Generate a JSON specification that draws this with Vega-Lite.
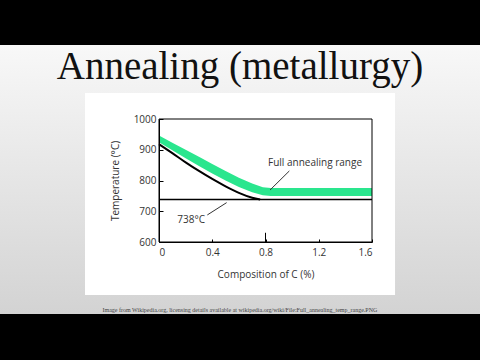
{
  "$schema": "https://vega.github.io/schema/vega-lite/v6.json",
  "autosize": {"type": "none"},
  "width": 213,
  "height": 123,
  "padding": {"left": 159, "top": 119, "right": 108, "bottom": 118},
  "background": "#000000",
  "config": {
    "view": {"stroke": null},
    "axis": {"labelFont": "Open Sans", "titleFont": "Open Sans", "labelColor": "#333333", "titleColor": "#333333", "labelFontSize": 10, "titleFontSize": 10, "titleFontWeight": "normal", "grid": false, "domainColor": "#000000", "tickColor": "#000000", "labelOverlap": false},
    "axisY": {"tickCount": 5}
  },
  "datasets": {
    "slide": [
      {"c1": -1.3, "c2": 2.5, "t1": 365.9, "t2": 1240.7}
    ],
    "box": [
      {"c1": -0.556, "c2": 1.773, "t1": 427.6, "t2": 1084.6}
    ],
    "frame": [
      {"c1": 0, "c2": 1.6, "t1": 600, "t2": 1000}
    ],
    "heading": [
      {"c": 0.608, "t": 1131, "label": "Annealing (metallurgy)"}
    ],
    "boundary": [
      {"c": 0, "t": 918}, {"c": 0.1, "t": 889}, {"c": 0.2, "t": 859}, {"c": 0.3, "t": 831},
      {"c": 0.4, "t": 805}, {"c": 0.5, "t": 781}, {"c": 0.6, "t": 760}, {"c": 0.7, "t": 744},
      {"c": 0.76, "t": 738}
    ],
    "band": [
      {"c": 0, "lo": 924, "hi": 946}, {"c": 0.1, "lo": 898, "hi": 923}, {"c": 0.2, "lo": 872, "hi": 900},
      {"c": 0.3, "lo": 847, "hi": 877}, {"c": 0.4, "lo": 823, "hi": 854}, {"c": 0.5, "lo": 800, "hi": 831},
      {"c": 0.6, "lo": 779, "hi": 809}, {"c": 0.7, "lo": 762, "hi": 790}, {"c": 0.78, "lo": 752, "hi": 778},
      {"c": 0.84, "lo": 750, "hi": 776}, {"c": 1.6, "lo": 750, "hi": 776}
    ],
    "eutectoid": [{"c": 0, "t": 738}, {"c": 1.6, "t": 738}],
    "marker": [{"c": 0.8, "t": 600, "t2": 630}],
    "labels": [
      {"c": 0.819, "t": 857, "label": "Full annealing range"},
      {"c": 0.137, "t": 671.5, "label": "738°C"}
    ],
    "pointers": [
      {"id": "a", "c": 0.979, "t": 831}, {"id": "a", "c": 0.834, "t": 769},
      {"id": "b", "c": 0.363, "t": 688}, {"id": "b", "c": 0.508, "t": 728}
    ],
    "caption": [
      {"c": 0.608, "t": 379, "label": "Image from Wikipedia.org, licensing details available at wikipedia.org/wiki/File:Full_annealing_temp_range.PNG"}
    ]
  },
  "layer": [
    {
      "data": {"name": "slide"},
      "mark": {"type": "rect", "clip": false, "color": {"gradient": "linear", "x1": 0, "y1": 0, "x2": 0, "y2": 1, "stops": [{"offset": 0, "color": "#f8f8f8"}, {"offset": 1, "color": "#d3d3d3"}]}},
      "encoding": {
        "x": {"field": "c1", "type": "quantitative", "scale": {"domain": [0, 1.6], "nice": false, "zero": false},
              "axis": {"values": [0, 0.4, 0.8, 1.2, 1.6], "format": "~g", "title": "Composition of C (%)", "tickSize": -3, "labelPadding": 8, "titlePadding": 12, "zindex": 5, "labelOverlap": false}},
        "x2": {"field": "c2"},
        "y": {"field": "t1", "type": "quantitative", "scale": {"domain": [600, 1000], "nice": false, "zero": false},
              "axis": {"values": [600, 700, 800, 900, 1000], "tickCount": 5, "format": "d", "title": "Temperature (°C)", "tickSize": -4, "labelPadding": 7, "titlePadding": 13, "zindex": 5, "labelOverlap": false, "labelBound": false, "labelFlush": false}},
        "y2": {"field": "t2"}
      }
    },
    {
      "data": {"name": "box"},
      "mark": {"type": "rect", "clip": false, "color": "#ffffff"},
      "encoding": {
        "x": {"field": "c1", "type": "quantitative"},
        "x2": {"field": "c2"},
        "y": {"field": "t1", "type": "quantitative"},
        "y2": {"field": "t2"}
      }
    },
    {
      "data": {"name": "heading"},
      "mark": {"type": "text", "align": "center", "baseline": "alphabetic", "font": "Liberation Serif", "fontSize": 39, "color": "#111111", "clip": false},
      "encoding": {
        "x": {"field": "c", "type": "quantitative"},
        "y": {"field": "t", "type": "quantitative"},
        "text": {"field": "label"}
      }
    },
    {
      "data": {"name": "band"},
      "mark": {"type": "area", "color": "#2ae68e", "opacity": 1},
      "encoding": {
        "x": {"field": "c", "type": "quantitative"},
        "y": {"field": "lo", "type": "quantitative"},
        "y2": {"field": "hi"}
      }
    },
    {
      "data": {"name": "boundary"},
      "mark": {"type": "line", "color": "#000000", "strokeWidth": 2, "interpolate": "monotone"},
      "encoding": {
        "x": {"field": "c", "type": "quantitative"},
        "y": {"field": "t", "type": "quantitative"}
      }
    },
    {
      "data": {"name": "eutectoid"},
      "mark": {"type": "line", "color": "#000000", "strokeWidth": 1.5},
      "encoding": {
        "x": {"field": "c", "type": "quantitative"},
        "y": {"field": "t", "type": "quantitative"}
      }
    },
    {
      "data": {"name": "marker"},
      "mark": {"type": "rule", "color": "#000000", "strokeWidth": 1},
      "encoding": {
        "x": {"field": "c", "type": "quantitative"},
        "y": {"field": "t", "type": "quantitative"},
        "y2": {"field": "t2"}
      }
    },
    {
      "data": {"name": "frame"},
      "mark": {"type": "rect", "fill": null, "fillOpacity": 0, "stroke": "#000000", "strokeWidth": 1},
      "encoding": {
        "x": {"field": "c1", "type": "quantitative"},
        "x2": {"field": "c2"},
        "y": {"field": "t1", "type": "quantitative"},
        "y2": {"field": "t2"}
      }
    },
    {
      "data": {"name": "pointers"},
      "mark": {"type": "line", "color": "#333333", "strokeWidth": 1},
      "encoding": {
        "x": {"field": "c", "type": "quantitative"},
        "y": {"field": "t", "type": "quantitative"},
        "detail": {"field": "id"}
      }
    },
    {
      "data": {"name": "labels"},
      "mark": {"type": "text", "align": "left", "baseline": "middle", "font": "Open Sans", "fontSize": 10, "color": "#333333"},
      "encoding": {
        "x": {"field": "c", "type": "quantitative"},
        "y": {"field": "t", "type": "quantitative"},
        "text": {"field": "label"}
      }
    },
    {
      "data": {"name": "caption"},
      "mark": {"type": "text", "align": "center", "baseline": "middle", "font": "Liberation Serif", "fontSize": 6, "color": "#444444", "clip": false},
      "encoding": {
        "x": {"field": "c", "type": "quantitative"},
        "y": {"field": "t", "type": "quantitative"},
        "text": {"field": "label"}
      }
    }
  ]
}
